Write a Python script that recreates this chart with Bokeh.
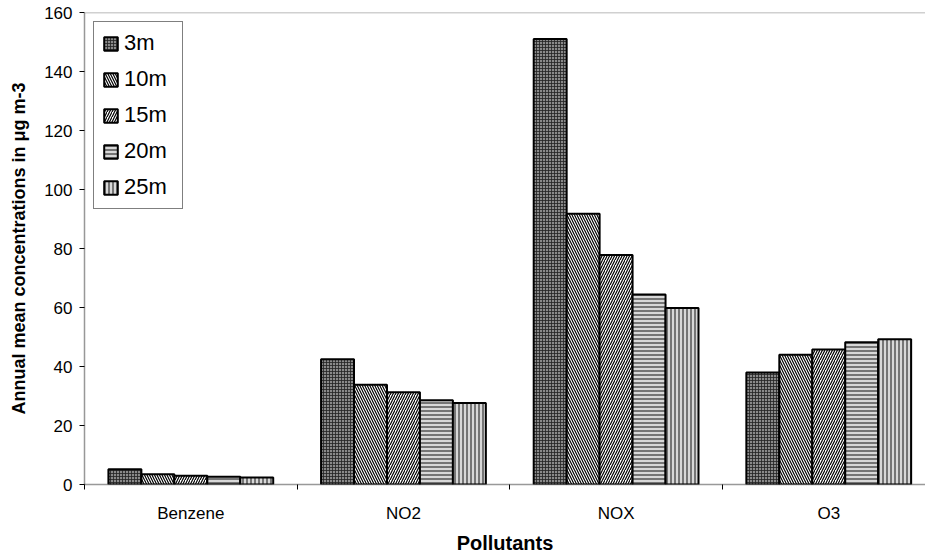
import numpy as np
from bokeh.plotting import figure
from bokeh.models import FixedTicker, Span
from bokeh.embed import file_html
from bokeh.resources import INLINE

pollutants = ["Benzene", "NO2", "NOX", "O3"]
series_names = ["3m", "10m", "15m", "20m", "25m"]
v_3m = [5.2, 42.5, 151.0, 38.0]
v_10m = [3.5, 33.8, 91.8, 44.0]
v_15m = [3.0, 31.3, 77.8, 45.8]
v_20m = [2.6, 28.6, 64.4, 48.2]
v_25m = [2.4, 27.6, 59.8, 49.2]
y_ticks = [0, 20, 40, 60, 80, 100, 120, 140, 160]

series = [v_3m, v_10m, v_15m, v_20m, v_25m]
styles = [
    dict(fill_color="#8a8a8a", hatch_pattern="+", hatch_scale=3, hatch_weight=0.8, hatch_color="#222222"),
    dict(fill_color="white", hatch_pattern="\\", hatch_scale=5, hatch_weight=1.2, hatch_color="black"),
    dict(fill_color="white", hatch_pattern="/", hatch_scale=5, hatch_weight=1.2, hatch_color="black"),
    dict(fill_color="#d8d8d8", hatch_pattern="-", hatch_scale=4, hatch_weight=1.0, hatch_color="#111111"),
    dict(fill_color="#d8d8d8", hatch_pattern="|", hatch_scale=4, hatch_weight=1.0, hatch_color="#111111"),
]

FONT = "Liberation Sans"
n_cat = len(pollutants)
bar_w = 0.155
centers = np.arange(n_cat) + 0.5

p = figure(width=925, height=558, output_backend="svg", toolbar_location=None,
           x_range=(0, 3.955), y_range=(0, 160),
           min_border_left=84, min_border_right=0, min_border_top=12, min_border_bottom=74)
p.outline_line_color = None
p.grid.visible = False
p.background_fill_color = "white"

for j, (name, vals, st) in enumerate(zip(series_names, series, styles)):
    off = (j - (len(series) - 1) / 2) * bar_w
    p.vbar(x=centers + off, top=vals, width=bar_w, line_color="black", line_width=2,
           legend_label=name, **st)

p.add_layout(Span(location=160, dimension="width", line_color="#444444", line_width=1.5, line_dash="1 1"))

# axes
p.yaxis.ticker = FixedTicker(ticks=y_ticks)
p.yaxis.axis_label = "Annual mean concentrations in \u03bcg m-3"
p.yaxis.axis_label_text_font = FONT
p.yaxis.axis_label_text_font_style = "bold"
p.yaxis.axis_label_text_font_size = "18px"
p.yaxis.axis_label_text_color = "black"
p.yaxis.axis_label_standoff = 12
p.yaxis.major_label_text_font = FONT
p.yaxis.major_label_text_font_size = "17px"
p.yaxis.major_label_text_color = "black"
p.yaxis.major_label_standoff = 7
p.yaxis.minor_tick_line_color = None
p.yaxis.major_tick_in = 0
p.yaxis.major_tick_out = 5
p.yaxis.major_tick_line_color = "black"
p.yaxis.axis_line_color = "#333333"
p.yaxis.axis_line_width = 1.5
p.yaxis.axis_line_dash = "1 1"

p.xaxis.ticker = FixedTicker(ticks=list(centers), minor_ticks=list(range(n_cat + 1)))
p.xaxis.major_label_overrides = {float(c): lab for c, lab in zip(centers, pollutants)}
p.xaxis.major_tick_line_color = None
p.xaxis.minor_tick_in = 0
p.xaxis.minor_tick_out = 5
p.xaxis.minor_tick_line_color = "black"
p.xaxis.axis_label = "Pollutants"
p.xaxis.axis_label_text_font = FONT
p.xaxis.axis_label_text_font_style = "bold"
p.xaxis.axis_label_text_font_size = "20px"
p.xaxis.axis_label_text_color = "black"
p.xaxis.axis_label_standoff = 6
p.xaxis.major_label_text_font = FONT
p.xaxis.major_label_text_font_size = "17px"
p.xaxis.major_label_text_color = "black"
p.xaxis.major_label_standoff = 13
p.xaxis.axis_line_color = "#333333"
p.xaxis.axis_line_width = 1.5
p.xaxis.axis_line_dash = "1 1"

leg = p.legend[0]
leg.location = "top_left"
leg.margin = 9
leg.padding = 8
leg.border_line_color = "black"
leg.border_line_width = 1
leg.label_text_font = FONT
leg.label_text_font_size = "22px"
leg.label_text_color = "black"
leg.glyph_width = 17
leg.glyph_height = 17
leg.label_height = 25
leg.label_width = 50
leg.label_standoff = 5
leg.spacing = 10
leg.background_fill_alpha = 1

open("out.html", "w").write(file_html(p, INLINE))
